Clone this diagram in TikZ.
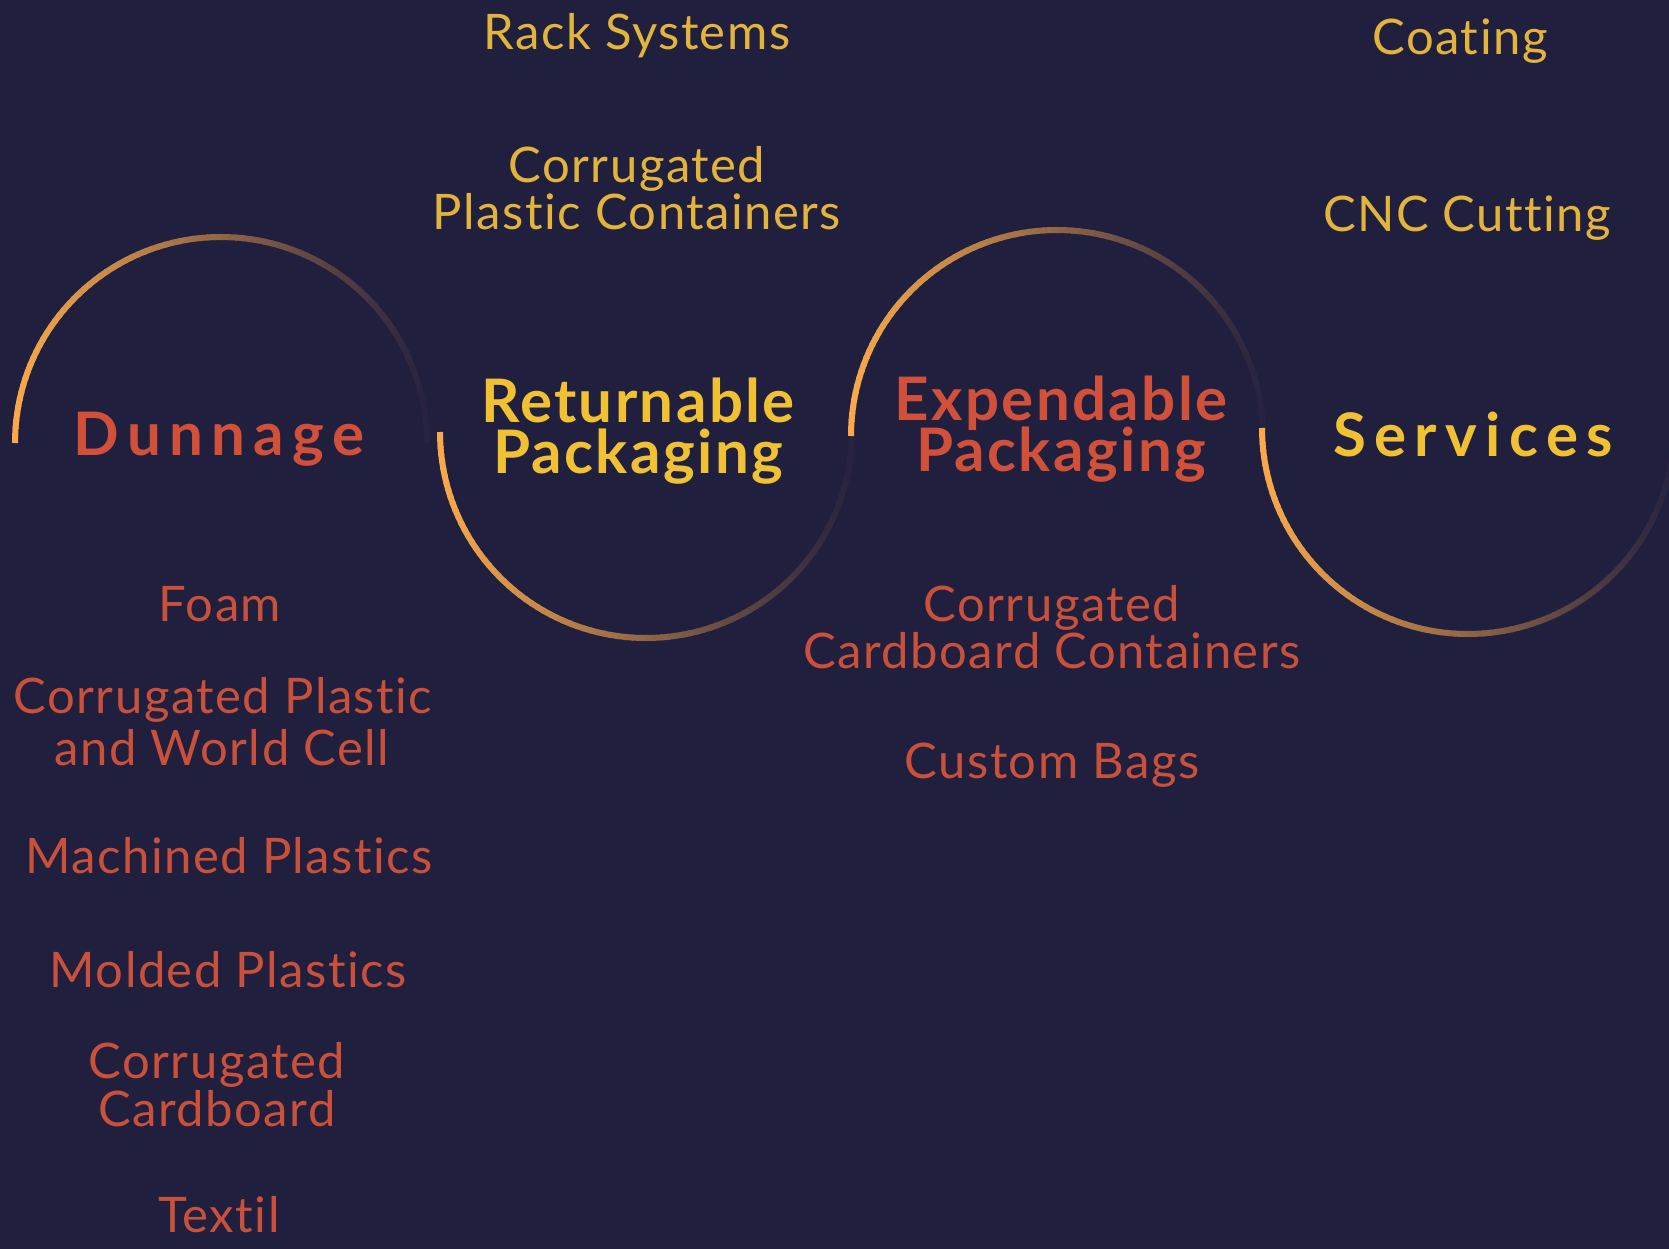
\documentclass[tikz,border=0pt]{standalone}
\usepackage{fontspec}
\setmainfont{Lato}[Ligatures=NoCommon]
\newfontfamily\lightfont{Lato}[LetterSpace=3,Ligatures=NoCommon]
\newfontfamily\headfont{Lato}[LetterSpace=4,Ligatures=NoCommon]
\newfontfamily\wideheadfont{Lato}[LetterSpace=14,Ligatures=NoCommon]
\definecolor{bgc}{HTML}{201F3D}
\definecolor{arcO}{HTML}{F9A94B}
\definecolor{arcE}{HTML}{262240}
\definecolor{hyel}{HTML}{F0C133}
\definecolor{hred}{HTML}{D1503A}
\definecolor{lyel}{HTML}{E2B43C}
\definecolor{lred}{HTML}{C9503A}
\newcommand\arcR{206pt}
\newcommand\gradarc[2]{%
  \foreach \i in {0,...,89}{%
    \pgfmathsetmacro\sa{180+#2*2*\i}%
    \pgfmathsetmacro\ea{180+#2*min(2*\i+2.6,180)}%
    \pgfmathtruncatemacro\pc{round(50*(1-cos(\sa+#2)))}%
    \draw[arcline, draw=arcO!\pc!arcE] (#1) ++(\sa:\arcR) arc[start angle=\sa, end angle=\ea, radius=\arcR];
  }}
\tikzset{
  arcline/.style={line width=6pt, line cap=butt},
  lt/.style={inner sep=0pt, anchor=base, font=\lightfont\fontsize{49}{52}\selectfont},
  ly/.style={lt, text=lyel},
  lr/.style={lt, text=lred},
  hd/.style={inner sep=0pt, anchor=base, font=\headfont\bfseries\fontsize{60}{60}\selectfont},
  whd/.style={inner sep=0pt, anchor=base, font=\wideheadfont\bfseries\fontsize{60}{60}\selectfont},
}
\begin{document}
\begin{tikzpicture}[x=1pt,y=1pt]
\fill[bgc] (0,0) rectangle (1669,-1249);
\useasboundingbox (0,0) rectangle (1669,-1249);
% circle centres
\coordinate (cD) at (221,-443);
\coordinate (cR) at (646,-432);
\coordinate (cE) at (1057,-436);
\coordinate (cS) at (1468,-428);
\gradarc{cD}{-1}
\gradarc{cR}{1}
\gradarc{cE}{-1}
\gradarc{cS}{1}
% headings
\node[whd, text=hred] (dun) at (219,-455) {Dunnage};
\node[hd, text=hyel] (ret1) at (638,-422) {Returnable};
\node[hd, text=hyel] (ret2) at (638,-473) {Packaging};
\node[hd, text=hred] (exp1) at (1061,-420) {Expendable};
\node[hd, text=hred] (exp2) at (1061,-471) {Packaging};
\node[whd, text=hyel] (ser) at (1473,-456) {Services};
% returnable items
\node[ly] (rack) at (637,-50) {Rack Systems};
\node[ly] (cpc1) at (637,-183) {Corrugated};
\node[ly] (cpc2) at (637,-230) {Plastic Containers};
% services items
\node[ly] (coat) at (1460,-55) {Coating};
\node[ly] (cnc) at (1467,-232) {CNC Cutting};
% dunnage items
\node[lr] (foam) at (220,-621) {Foam};
\node[lr] (cpw1) at (223,-713) {Corrugated Plastic};
\node[lr] (cpw2) at (222,-765) {and World Cell};
\node[lr] (mach) at (229,-873) {Machined Plastics};
\node[lr] (mold) at (228,-987) {Molded Plastics};
\node[lr] (cc1) at (217,-1078) {Corrugated};
\node[lr] (cc2) at (217,-1126) {Cardboard};
\node[lr] (tex) at (219,-1232) {Textil};
% expendable items
\node[lr] (ccc1) at (1052,-621) {Corrugated};
\node[lr] (ccc2) at (1052,-668) {Cardboard Containers};
\node[lr] (bags) at (1052,-778) {Custom Bags};
\end{tikzpicture}
\end{document}
